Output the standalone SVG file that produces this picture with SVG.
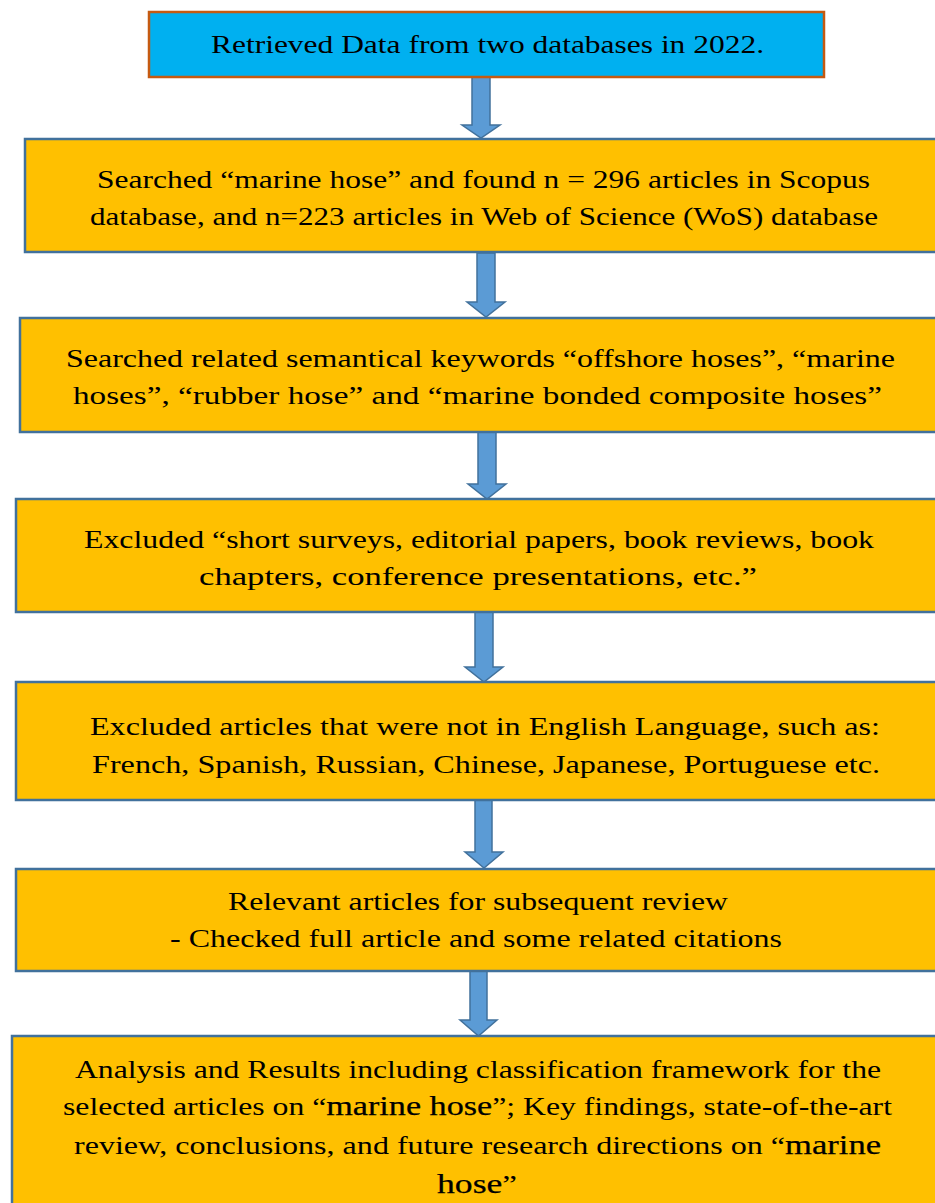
<svg xmlns="http://www.w3.org/2000/svg" width="935" height="1203" viewBox="0 0 935 1203">
<style>
.box{fill:#FFC000;stroke:#41719C;stroke-width:2.5}
.blue{fill:#00B0F0;stroke:#C55A11;stroke-width:2.5}
.arrow{fill:#5B9BD5;stroke:#41719C;stroke-width:1.5;stroke-linejoin:miter}
.t{font-family:"Liberation Serif","Times New Roman",serif;font-size:26px;fill:#000}
.b{font-family:"Liberation Serif","Times New Roman",serif;font-size:28px;stroke:#000;stroke-width:0.25}
</style>
<rect width="935" height="1203" fill="#fff"/>
<g id="connectors">
<polygon class="arrow" points="472,77 490,77 490,125 500,125 481,138 462,125 472,125"/>
<polygon class="arrow" points="477,253 495,253 495,302 505,302 486,317 467,302 477,302"/>
<polygon class="arrow" points="478,432 496,432 496,484 506,484 487,499 468,484 478,484"/>
<polygon class="arrow" points="475,612 493,612 493,667 503,667 484,682 465,667 475,667"/>
<polygon class="arrow" points="475,800 492,800 492,852 503,852 484,868 465,852 475,852"/>
<polygon class="arrow" points="470,971 487,971 487,1020 497,1020 478.5,1036 460,1020 470,1020"/>
</g>
<g id="n1">
<rect class="blue" x="149" y="12" width="675" height="65"/>
<text class="t" x="211" y="53" textLength="553" lengthAdjust="spacingAndGlyphs">Retrieved Data from two databases in 2022.</text>
</g>
<g id="n2">
<rect class="box" x="25" y="139" width="915" height="113"/>
<text class="t" x="97" y="188" textLength="773" lengthAdjust="spacingAndGlyphs">Searched “marine hose” and found n = 296 articles in Scopus</text>
<text class="t" x="90" y="225" textLength="788" lengthAdjust="spacingAndGlyphs">database, and n=223 articles in Web of Science (WoS) database</text>
</g>
<g id="n3">
<rect class="box" x="20" y="318" width="920" height="114"/>
<text class="t" x="66" y="367" textLength="829" lengthAdjust="spacingAndGlyphs">Searched related semantical keywords “offshore hoses”, “marine</text>
<text class="t" x="73" y="404" textLength="809" lengthAdjust="spacingAndGlyphs">hoses”, “rubber hose” and “marine bonded composite hoses”</text>
</g>
<g id="n4">
<rect class="box" x="16" y="499" width="924" height="113"/>
<text class="t" x="84" y="548" textLength="790" lengthAdjust="spacingAndGlyphs">Excluded “short surveys, editorial papers, book reviews, book</text>
<text class="t" x="199" y="585" textLength="558" lengthAdjust="spacingAndGlyphs">chapters, conference presentations, etc.”</text>
</g>
<g id="n5">
<rect class="box" x="16" y="682" width="924" height="118"/>
<text class="t" x="90" y="735" textLength="790" lengthAdjust="spacingAndGlyphs">Excluded articles that were not in English Language, such as:</text>
<text class="t" x="92" y="773" textLength="788" lengthAdjust="spacingAndGlyphs">French, Spanish, Russian, Chinese, Japanese, Portuguese etc.</text>
</g>
<g id="n6">
<rect class="box" x="16" y="869" width="924" height="102"/>
<text class="t" x="228" y="910" textLength="500" lengthAdjust="spacingAndGlyphs">Relevant articles for subsequent review</text>
<text class="t" x="170" y="947" textLength="612" lengthAdjust="spacingAndGlyphs">- Checked full article and some related citations</text>
</g>
<g id="n7">
<rect class="box" x="12" y="1036" width="928" height="180"/>
<text class="t" x="75" y="1078" textLength="806" lengthAdjust="spacingAndGlyphs">Analysis and Results including classification framework for the</text>
<text class="t" x="63" y="1115" textLength="829" lengthAdjust="spacingAndGlyphs">selected articles on “<tspan class="b">marine hose</tspan>”; Key findings, state-of-the-art</text>
<text class="t" x="74" y="1154" textLength="807" lengthAdjust="spacingAndGlyphs">review, conclusions, and future research directions on “<tspan class="b">marine</tspan></text>
<text class="t" x="437" y="1193" textLength="80" lengthAdjust="spacingAndGlyphs"><tspan class="b">hose</tspan>”</text>
</g>
</svg>
